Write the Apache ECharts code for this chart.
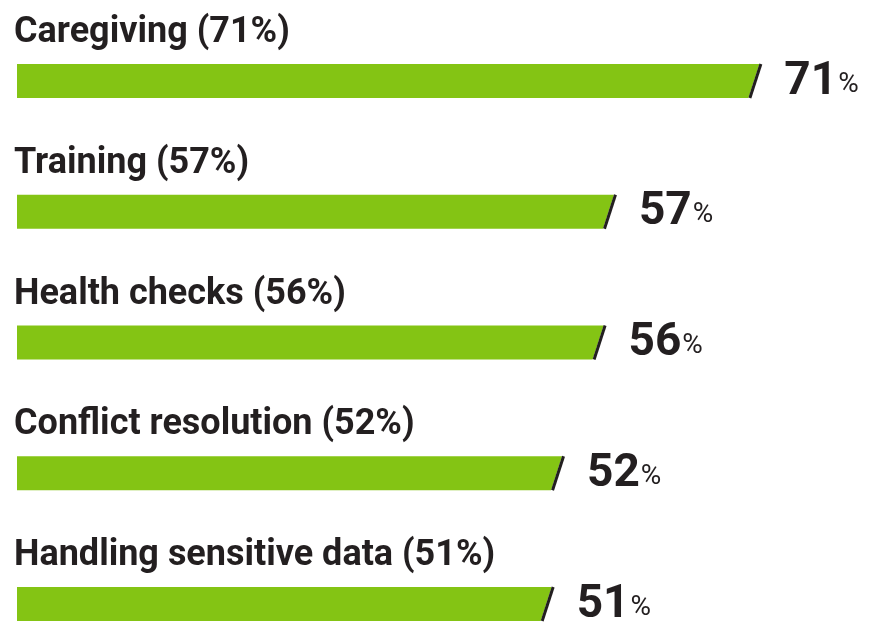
<!DOCTYPE html>
<html>
<head>
<meta charset="utf-8">
<script src="https://cdn.jsdelivr.net/npm/echarts@6/dist/echarts.min.js"></script>
<style>
  html, body { margin: 0; padding: 0; background: #fff; }
  #chart { width: 879px; height: 628px; }
</style>
</head>
<body>
<div id="chart"></div>
<script>
var categories = ["Caregiving", "Training", "Health checks", "Conflict resolution", "Handling sensitive data"];
var values = [71, 57, 56, 52, 51];

var green = "#84c414";
var ink = "#231f20";

var chart = echarts.init(document.getElementById("chart"));

// each bar ends in a slanted cut with a dark slash
function renderItem(params, api)
{
    var i = api.value(1);
    var v = api.value(0);
    var start = api.coord([0, i]);
    var end = api.coord([v, i]);
    var h = 34;
    var top = end[1] - h / 2;
    var bottom = end[1] + h / 2;
    return {
        type: "group",
        children: [
            {
                type: "polygon",
                shape: { points: [[start[0], top], [end[0] + 5, top], [end[0] - 6, bottom], [start[0], bottom]] },
                style: { fill: green }
            },
            {
                type: "line",
                shape: { x1: end[0] + 6.5, y1: top, x2: end[0] - 4.5, y2: bottom },
                style: { stroke: ink, lineWidth: 3 }
            },
            {
                type: "text",
                x: start[0] - 3,
                y: end[1] - 48,
                style: {
                    text: categories[i] + " (" + v + "%)",
                    fill: ink,
                    font: "bold 36px Roboto",
                    verticalAlign: "middle",
                    align: "left"
                }
            },
            {
                type: "text",
                x: end[0] + 30,
                y: end[1] + 1,
                style: {
                    text: "{n|" + v + "}{p|%}",
                    verticalAlign: "middle",
                    align: "left",
                    rich: {
                        n: { fontSize: 46, fontWeight: "bold", fontFamily: "Roboto", fill: ink, color: ink },
                        p: { fontSize: 28, fontFamily: "Roboto", fill: ink, color: ink, padding: [5, 0, 0, 1] }
                    }
                }
            }
        ]
    };
}

chart.setOption({
    animation: false,
    grid: { left: 17, right: 0, top: 81, bottom: 24 },
    xAxis: { type: "value", min: 0, max: 83, show: false },
    yAxis: { type: "category", data: categories, inverse: true, boundaryGap: false, show: false },
    series: [
        {
            type: "custom",
            renderItem: renderItem,
            encode: { x: 0, y: 1 },
            data: values.map(function (v, i) { return [v, i]; })
        }
    ]
});
</script>
</body>
</html>
